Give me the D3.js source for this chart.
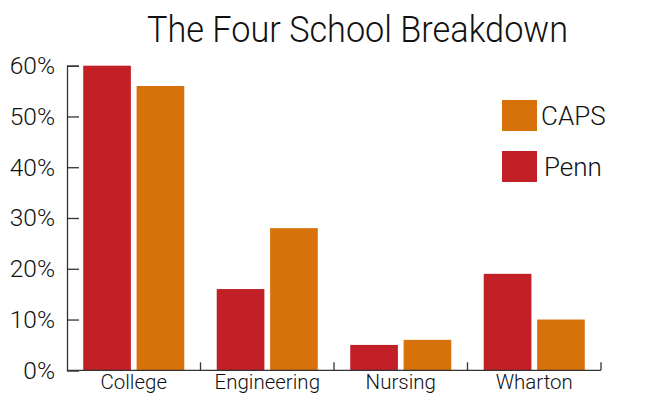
<!DOCTYPE html>
<html>
<head>
<meta charset="utf-8">
<script src="https://cdnjs.cloudflare.com/ajax/libs/d3/7.8.5/d3.min.js"></script>
<style>
  body { margin: 0; background: #fff; }
  svg text { font-family: Roboto, "Liberation Sans", Arial, sans-serif; font-weight: 300; fill: #111; }
  .axis path, .axis line { stroke: #333; stroke-width: 1.3; }
</style>
</head>
<body>
<div id="canvas"></div>
<script>
const schools = ["College", "Engineering", "Nursing", "Wharton"];
const groups = ["Penn", "CAPS"];
const pennValues = [60, 16, 5, 19];
const capsValues = [56, 28, 6, 10];
const yTicks = [0, 10, 20, 30, 40, 50, 60];
const legendKeys = ["CAPS", "Penn"];

const w = 650;
const h = 398;
const margin = { top: 65.7, bottom: 28, left: 67, right: 49 };
const colors = { Penn: "#c21f27", CAPS: "#d77109" };

const svg = d3.select("#canvas").append("svg")
  .attr("width", w)
  .attr("height", h);

const width = w - margin.left - margin.right;
const height = h - margin.top - margin.bottom;

const data = schools.map(function(s, i){
  return { school: s, Penn: pennValues[i], CAPS: capsValues[i] };
});

const x0 = d3.scaleBand().domain(schools).range([0, width]).padding(0);
const x1 = d3.scaleBand().domain(groups).range([0, x0.bandwidth()])
  .paddingInner(0.107).paddingOuter(0.304);
const y = d3.scaleLinear().domain([0, 60]).range([height + 0.3, 0]);

const chart = svg.append("g")
  .attr("transform", "translate(" + margin.left + "," + margin.top + ")");

// title
svg.append("text")
  .attr("x", 357.5)
  .attr("y", 42)
  .attr("text-anchor", "middle")
  .attr("textLength", 421)
  .attr("lengthAdjust", "spacingAndGlyphs")
  .style("font-size", "37px")
  .text("The Four School Breakdown");

// bars
chart.selectAll(".school")
  .data(data)
  .enter()
  .append("g")
  .attr("transform", function(d){ return "translate(" + x0(d.school) + ",0)"; })
  .selectAll("rect")
  .data(function(d){ return groups.map(function(k){ return { key: k, value: d[k] }; }); })
  .enter()
  .append("rect")
  .attr("x", function(d){ return x1(d.key); })
  .attr("width", x1.bandwidth())
  .attr("y", function(d){ return y(d.value); })
  .attr("height", function(d){ return y(0) - y(d.value); })
  .attr("fill", function(d){ return colors[d.key]; });

// y axis, ticks point inward
const yAxis = chart.append("g")
  .attr("class", "axis")
  .call(d3.axisLeft(y).tickValues(yTicks).tickSize(-12).tickPadding(12)
    .tickFormat(function(d){ return d + "%"; }));
yAxis.selectAll("text").style("font-size", "24.5px").attr("fill", "#111");

// x axis with labels, boundary ticks drawn from the band scale
const xAxis = chart.append("g")
  .attr("class", "axis")
  .attr("transform", "translate(0," + y(0) + ")")
  .call(d3.axisBottom(x0).tickSize(0).tickPadding(4));
xAxis.select(".domain").remove();
xAxis.selectAll("text").style("font-size", "20.5px").attr("fill", "#111");

xAxis.append("line")
  .attr("x1", 0).attr("x2", width)
  .attr("y1", 0).attr("y2", 0);
xAxis.selectAll(".bound")
  .data(schools)
  .enter()
  .append("line")
  .attr("class", "bound")
  .attr("x1", function(d){ return x0(d) + x0.step(); })
  .attr("x2", function(d){ return x0(d) + x0.step(); })
  .attr("y1", 0).attr("y2", -8);

// legend
const legend = svg.append("g").attr("transform", "translate(502,100)");
const item = legend.selectAll(".item")
  .data(legendKeys)
  .enter()
  .append("g")
  .attr("transform", function(d, i){ return "translate(0," + (i * 51) + ")"; });
item.append("rect")
  .attr("width", 35)
  .attr("height", 31)
  .attr("fill", function(d){ return colors[d]; });
item.append("text")
  .attr("x", function(d){ return d === "Penn" ? 42 : 39; })
  .attr("y", 25)
  .style("font-size", "26px")
  .text(function(d){ return d; });
</script>
</body>
</html>
